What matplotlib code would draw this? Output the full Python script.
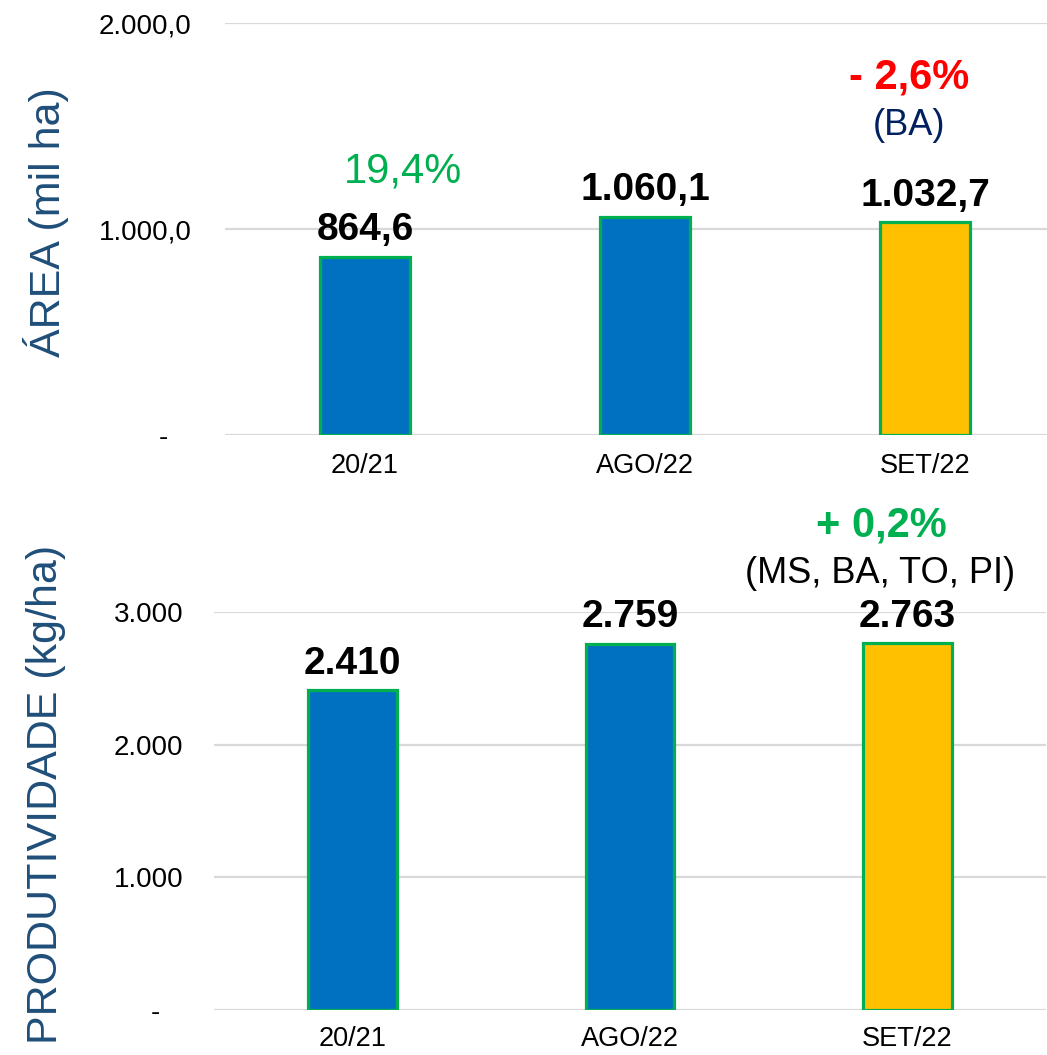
import matplotlib
matplotlib.use('Agg')
from matplotlib import pyplot as plt

# Data
categories = ['20/21', 'AGO/22', 'SET/22']
area = [864.6, 1060.1, 1032.7]
area_labels = ['864,6', '1.060,1', '1.032,7']
prod = [2410, 2759, 2763]
prod_labels = ['2.410', '2.759', '2.763']
area_ticks = [0, 1000, 2000]
area_tick_labels = ['-   ', '1.000,0', '2.000,0']
prod_ticks = [0, 1000, 2000, 3000]
prod_tick_labels = ['-   ', '1.000', '2.000', '3.000']

bar_colors = ['#0070C0', '#0070C0', '#FFC000']
edge = '#00B050'
grid = '#D9D9D9'
axis_blue = '#1F4E79'

plt.rcParams['font.family'] = ['Liberation Sans', 'DejaVu Sans']

fig = plt.figure(figsize=(10.47, 10.55), dpi=100)
ax1 = fig.add_axes([225 / 1047, 620 / 1055, 840 / 1047, 412 / 1055])
ax2 = fig.add_axes([214 / 1047, 45 / 1055, 832 / 1047, 398 / 1055])


def style_axes(ax, ticks, tick_labels, ymax, ypad, xpad):
    ax.set_xlim(-0.5, 2.5)
    ax.set_ylim(0, ymax)
    ax.set_yticks(ticks)
    ax.set_yticklabels(tick_labels)
    ax.set_xticks(range(len(categories)))
    ax.set_xticklabels(categories)
    for s in ax.spines.values():
        s.set_visible(False)
    ax.tick_params(axis='y', length=0, labelsize=20, pad=ypad)
    ax.tick_params(axis='x', length=0, labelsize=19.5, pad=xpad)
    ax.yaxis.grid(True, color=grid, linewidth=1.6)
    ax.set_axisbelow(True)


def draw_bars(ax, values, labels):
    x = range(len(values))
    ax.bar(x, values, width=0.32, color=bar_colors, edgecolor=edge,
           linewidth=2.3, zorder=3)
    for i, (v, lab) in enumerate(zip(values, labels)):
        ax.annotate(lab, (i, v), xytext=(0, 12), textcoords='offset points',
                    ha='center', va='baseline', fontsize=28,
                    fontweight='bold', color='black')


# Top chart: area
style_axes(ax1, area_ticks, area_tick_labels, 2000, 24, 13)
draw_bars(ax1, area, area_labels)
ax1.text(0.136, 1228, '19,4%', ha='center', va='baseline', fontsize=30,
         color='#00B050')
ax1.text(1.943, 1680, '- 2,6%', ha='center', va='baseline', fontsize=30,
         fontweight='bold', color='#FF0000')
ax1.text(1.943, 1456, '(BA)', ha='center', va='baseline', fontsize=26,
         color='#002060')

# Bottom chart: productivity
style_axes(ax2, prod_ticks, prod_tick_labels, 3000, 22, 11.5)
draw_bars(ax2, prod, prod_labels)
ax2.text(1.906, 3572, '+ 0,2%', ha='center', va='baseline', fontsize=30,
         fontweight='bold', color='#00B050', clip_on=False)
ax2.text(1.903, 3218, '(MS, BA, TO, PI)', ha='center', va='baseline',
         fontsize=26, color='black', clip_on=False)

# Axis titles
fig.text(46 / 1047, 1 - 222 / 1055, 'ÁREA (mil ha)', rotation=90,
         ha='center', va='center', fontsize=31, color=axis_blue)
fig.text(46 / 1047, 1 - 794 / 1055, 'PRODUTIVIDADE (kg/ha)', rotation=90,
         ha='center', va='center', fontsize=31, color=axis_blue)

plt.savefig('out.png', dpi=100)
plt.close()
